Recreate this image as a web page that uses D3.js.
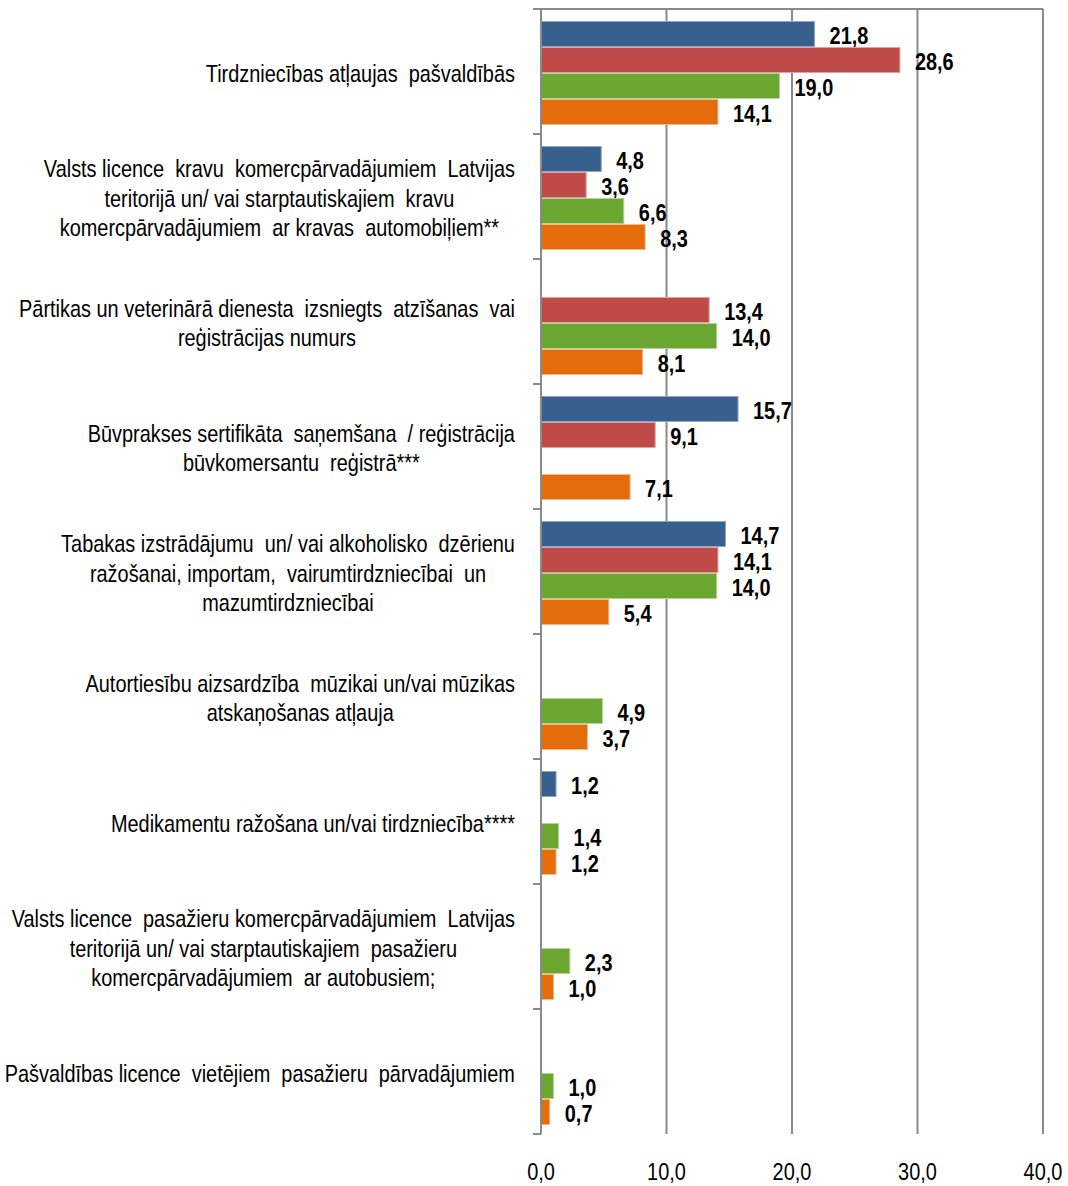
<!DOCTYPE html>
<html>
<head>
<meta charset="utf-8">
<script src="https://cdn.jsdelivr.net/npm/d3@7"></script>
<style>
  body { margin: 0; background: #fff; }
  text { font-family: "Liberation Sans", Arial, sans-serif; white-space: pre; }
</style>
</head>
<body>
<div id="chart"></div>
<script>
const categories = [
  ['Tirdzniecības atļaujas  pašvaldībās'],
  ['Valsts licence  kravu  komercpārvadājumiem  Latvijas', 'teritorijā un/ vai starptautiskajiem  kravu', 'komercpārvadājumiem  ar kravas  automobiļiem**'],
  ['Pārtikas un veterinārā dienesta  izsniegts  atzīšanas  vai', 'reģistrācijas numurs'],
  ['Būvprakses sertifikāta  saņemšana  / reģistrācija', 'būvkomersantu  reģistrā***'],
  ['Tabakas izstrādājumu  un/ vai alkoholisko  dzērienu', 'ražošanai, importam,  vairumtirdzniecībai  un', 'mazumtirdzniecībai'],
  ['Autortiesību aizsardzība  mūzikai un/vai mūzikas', 'atskaņošanas atļauja'],
  ['Medikamentu ražošana un/vai tirdzniecība****'],
  ['Valsts licence  pasažieru komercpārvadājumiem  Latvijas', 'teritorijā un/ vai starptautiskajiem  pasažieru', 'komercpārvadājumiem  ar autobusiem;'],
  ['Pašvaldības licence  vietējiem  pasažieru  pārvadājumiem']
];

const seriesBlue   = [21.8, 4.8, null, 15.7, 14.7, null, 1.2, null, null];
const seriesRed    = [28.6, 3.6, 13.4, 9.1, 14.1, null, null, null, null];
const seriesGreen  = [19.0, 6.6, 14.0, null, 14.0, 4.9, 1.4, 2.3, 1.0];
const seriesOrange = [14.1, 8.3, 8.1, 7.1, 5.4, 3.7, 1.2, 1.0, 0.7];

const xTicks = [0, 10, 20, 30, 40];

const series = [
  { key: 's1', values: seriesBlue, color: '#37608f', edge: '#8ea6c6' },
  { key: 's2', values: seriesRed, color: '#be4b48', edge: '#e0a3a1' },
  { key: 's3', values: seriesGreen, color: '#6ba631', edge: '#b6d49a' },
  { key: 's4', values: seriesOrange, color: '#e46c0a', edge: '#f2b88a' }
];

const width = 1068, height = 1186;
const plotLeft = 541, plotRight = 1043, plotTop = 9, plotBottom = 1134;
const narrow = 0.83; // squeeze to mimic a narrow font

const fmt = v => d3.format('.1f')(v).replace('.', ',');

const svg = d3.select('#chart')
  .append('svg')
  .attr('width', width)
  .attr('height', height);

const x = d3.scaleLinear().domain([0, 40]).range([plotLeft, plotRight]);

const y0 = d3.scaleBand()
  .domain(d3.range(categories.length))
  .range([plotTop, plotBottom]);

const y1 = d3.scaleBand()
  .domain(series.map(s => s.key))
  .range([12, 116]);

// gridlines
svg.append('g')
  .selectAll('line')
  .data(xTicks.slice(1))
  .join('line')
  .attr('x1', d => x(d))
  .attr('x2', d => x(d))
  .attr('y1', plotTop)
  .attr('y2', plotBottom)
  .attr('stroke', '#8a8a8a')
  .attr('stroke-width', 2);

// top border
svg.append('line')
  .attr('x1', plotLeft - 8)
  .attr('x2', plotRight)
  .attr('y1', plotTop)
  .attr('y2', plotTop)
  .attr('stroke', '#8a8a8a')
  .attr('stroke-width', 2);

// bars
const groups = svg.append('g')
  .selectAll('g')
  .data(series)
  .join('g');

const cells = groups.selectAll('g')
  .data(s => s.values.map((v, i) => ({ v, i, s })).filter(d => d.v != null))
  .join('g');

cells.append('rect')
  .attr('x', plotLeft)
  .attr('y', d => y0(d.i) + y1(d.s.key) + 0.5)
  .attr('width', d => x(d.v) - plotLeft)
  .attr('height', y1.bandwidth() - 1)
  .attr('fill', d => d.s.color)
  .attr('stroke', d => d.s.edge)
  .attr('stroke-width', 1);

cells.append('text')
  .attr('transform', d => `translate(${x(d.v) + 15},${y0(d.i) + y1(d.s.key) + y1.bandwidth() / 2 + 1.5}) scale(${narrow},1)`)
  .attr('dominant-baseline', 'central')
  .attr('font-size', 24)
  .attr('font-weight', 'bold')
  .attr('fill', '#000')
  .text(d => fmt(d.v));

// left axis with ticks between categories
const yAxis = svg.append('g');
yAxis.append('line')
  .attr('x1', plotLeft)
  .attr('x2', plotLeft)
  .attr('y1', plotTop)
  .attr('y2', plotBottom)
  .attr('stroke', '#8a8a8a')
  .attr('stroke-width', 2);
yAxis.selectAll('.tick')
  .data(d3.range(categories.length + 1))
  .join('line')
  .attr('x1', plotLeft - 8)
  .attr('x2', plotLeft)
  .attr('y1', i => i < categories.length ? y0(i) : plotBottom)
  .attr('y2', i => i < categories.length ? y0(i) : plotBottom)
  .attr('stroke', '#8a8a8a')
  .attr('stroke-width', 2);

// category labels: centered lines, block right-aligned
const labelRight = 515;
const lineH = 29.5;
categories.forEach((lines, i) => {
  const g = svg.append('g');
  const cy = y0(i) + y0.bandwidth() / 2 + 2;
  const texts = g.selectAll('text')
    .data(lines)
    .join('text')
    .attr('dominant-baseline', 'central')
    .attr('text-anchor', 'middle')
    .attr('font-size', 24)
    .attr('fill', '#000')
    .text(d => d);
  const maxW = d3.max(texts.nodes(), n => n.getComputedTextLength()) * narrow;
  texts.attr('transform', (d, j) =>
    `translate(${labelRight - maxW / 2},${cy + (j - (lines.length - 1) / 2) * lineH}) scale(${narrow},1)`);
});

// x tick labels
svg.append('g')
  .selectAll('text')
  .data(xTicks)
  .join('text')
  .attr('transform', d => `translate(${x(d)},1172) scale(${narrow},1)`)
  .attr('dominant-baseline', 'central')
  .attr('text-anchor', 'middle')
  .attr('font-size', 24)
  .attr('fill', '#000')
  .text(d => fmt(d));
</script>
</body>
</html>
